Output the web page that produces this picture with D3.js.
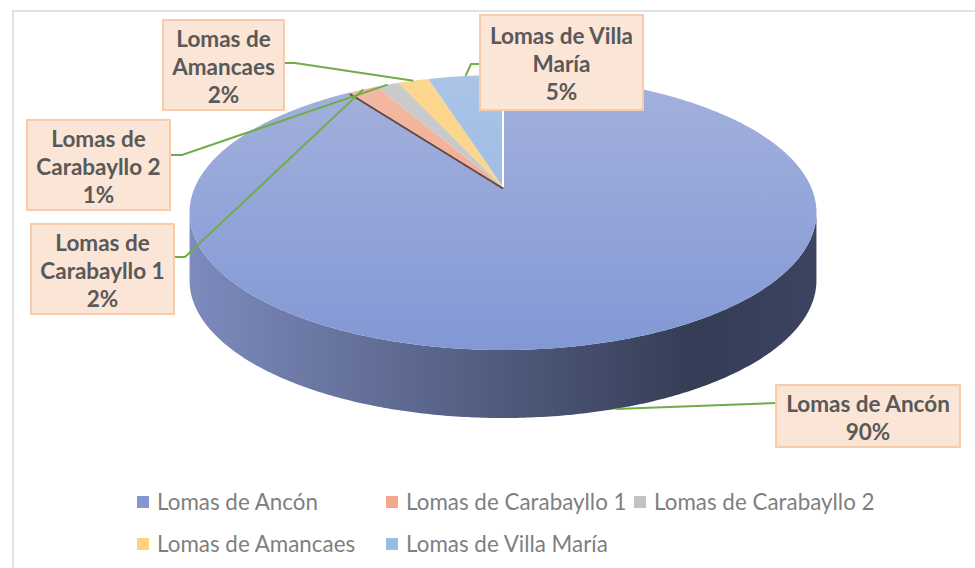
<!DOCTYPE html>
<html>
<head>
<meta charset="utf-8">
<script src="https://cdn.jsdelivr.net/npm/d3@7"></script>
<style>
  body { margin: 0; background: #fff; }
  svg { display: block; }
</style>
</head>
<body>
<div id="container"></div>
<script>
let w = 975;
let h = 568;

// DATA (share of each loma)
let names = ["Lomas de Ancón", "Lomas de Carabayllo 1", "Lomas de Carabayllo 2", "Lomas de Amancaes", "Lomas de Villa María"];
let values = [90.3, 1.8, 1.4, 1.9, 4.6];

// styles
let topColors = [["#a4b1dc", "#8298d5"], ["#f4b8a1", "#eea486"], ["#cbcbcb", "#c4c4c4"], ["#fcd78f", "#fbd27f"], ["#abc4e7", "#8fb2e1"]];
let legendColors = ["#8597d1", "#f5a78a", "#c3c3c3", "#fed57e", "#9cbbe5"];

// label boxes: where each data label sits and where its leader line leaves it
let labelBoxes = [
  {x: 776, y: 385, w: 184, h: 62, side: "left", ly: 403, elbow: 0},
  {x: 31, y: 224, w: 143, h: 90, side: "right", ly: 257, elbow: 11},
  {x: 27, y: 120, w: 143, h: 90, side: "right", ly: 155, elbow: 12},
  {x: 163, y: 20, w: 121, h: 90, side: "right", ly: 63, elbow: 11},
  {x: 480, y: 15, w: 163, h: 95, side: "left", ly: 64, elbow: 9}
];
let legendCols = [137, 386, 634];
let legendRows = [502, 544];

// 3D disc: perspective projection of a unit circle
let cx = 503, cy = 187, A = 308, B = 132.8, k = 0.1854, depth = 68;
function proj(t, r = 1) {
  let u = r * Math.sin(t), v = -r * Math.cos(t), q = 1 - k * v;
  return [cx + A * u / q, cy + B * v / q];
}
function rim(a0, a1, dy = 0) {
  let n = Math.max(2, Math.ceil(Math.abs(a1 - a0) / 0.01));
  return d3.range(n + 1).map(i => {
    let p = proj(a0 + (a1 - a0) * i / n);
    return [p[0], p[1] + dy];
  });
}
let line = d3.line();

let viz = d3.select("#container").append("svg")
  .attr("width", w)
  .attr("height", h);

let defs = viz.append("defs");
topColors.forEach((c, i) => {
  let g = defs.append("linearGradient").attr("id", "top" + i)
    .attr("gradientUnits", "userSpaceOnUse")
    .attr("x1", 0).attr("y1", 75).attr("x2", 0).attr("y2", 350);
  g.append("stop").attr("offset", 0).attr("stop-color", c[0]);
  g.append("stop").attr("offset", 1).attr("stop-color", c[1]);
});
let sideGrad = defs.append("linearGradient").attr("id", "side")
  .attr("gradientUnits", "userSpaceOnUse")
  .attr("x1", 190).attr("y1", 0).attr("x2", 820).attr("y2", 0);
[[0, "#7d8bbd"], [0.5, "#4f5a7c"], [0.8, "#353c55"], [1, "#3c4461"]].forEach(s =>
  sideGrad.append("stop").attr("offset", s[0]).attr("stop-color", s[1]));

// chart frame
viz.append("rect")
  .attr("x", 13).attr("y", 11).attr("width", w).attr("height", h)
  .attr("fill", "none").attr("stroke", "#d9d9d9").attr("stroke-width", 1.5);

let pie = d3.pie().sort(null).value(d => d)(values);

// visible outer wall (front half between silhouette points)
let sA = Math.acos(-k), sB = 2 * Math.PI - Math.acos(-k);
pie.forEach((d, i) => {
  let a0 = Math.max(d.startAngle, sA), a1 = Math.min(d.endAngle, sB);
  if (a1 <= a0) return;
  let pts = rim(a0, a1).concat(rim(a0, a1, depth).reverse());
  viz.append("path").attr("d", line(pts) + "Z").attr("fill", i == 0 ? "url(#side)" : legendColors[i]);
});

// top faces
viz.selectAll(".slice").data(pie).enter()
  .append("path")
  .attr("class", "slice")
  .attr("d", d => line([[cx, cy]].concat(rim(d.startAngle, d.endAngle))) + "Z")
  .attr("fill", (d, i) => "url(#top" + i + ")");

// cut face under the first small slice and the white seam at 12 o'clock
let cut = proj(pie[1].startAngle);
viz.append("line")
  .attr("x1", cx).attr("y1", cy + 1.5).attr("x2", cut[0]).attr("y2", cut[1] + 1.5)
  .attr("stroke", "#6e4636").attr("stroke-width", 2);
let seam = proj(0);
viz.append("line")
  .attr("x1", cx).attr("y1", cy).attr("x2", seam[0]).attr("y2", seam[1])
  .attr("stroke", "#fff").attr("stroke-width", 2);

// leader lines
pie.forEach((d, i) => {
  let b = labelBoxes[i];
  let mid = (d.startAngle + d.endAngle) / 2;
  let p = proj(mid);
  if (-Math.cos(mid) > 0) p[1] += depth;
  let ex = b.side == "left" ? b.x : b.x + b.w;
  let dir = b.side == "left" ? -1 : 1;
  let pts = [[ex, b.ly], [ex + dir * b.elbow, b.ly], p];
  viz.append("path").attr("d", line(pts))
    .attr("fill", "none").attr("stroke", "#70ad47").attr("stroke-width", 2);
});

// data labels
let fmt = d3.format(".0%");
let total = d3.sum(values);
let labelFont = 22.5;
pie.forEach((d, i) => {
  let b = labelBoxes[i];
  let g = viz.append("g");
  g.append("rect").attr("x", b.x).attr("y", b.y).attr("width", b.w).attr("height", b.h)
    .attr("fill", "#fbe5d6").attr("stroke", "#f8cbad").attr("stroke-width", 2);
  // word wrap against box width
  let probe = g.append("text").attr("font-family", "Lato, sans-serif").attr("font-weight", "bold").attr("font-size", labelFont);
  let words = names[i].split(" "), lines = [], cur = "";
  words.forEach(wd => {
    let test = cur ? cur + " " + wd : wd;
    probe.text(test);
    if (probe.node().getComputedTextLength() > b.w - 6 && cur) { lines.push(cur); cur = wd; }
    else cur = test;
  });
  lines.push(cur);
  probe.remove();
  lines.push(fmt(values[i] / total));
  let lh = 28, c = b.y + b.h / 2 + 2;
  lines.forEach((t, j) => {
    g.append("text")
      .attr("x", b.x + b.w / 2)
      .attr("y", c + (j - (lines.length - 1) / 2) * lh)
      .attr("dy", "0.35em")
      .attr("text-anchor", "middle")
      .attr("font-family", "Lato, sans-serif")
      .attr("font-weight", "bold")
      .attr("font-size", labelFont)
      .attr("fill", "#595959")
      .text(t);
  });
});

// legend
let legend = viz.selectAll(".legend").data(names).enter()
  .append("g").attr("class", "legend")
  .attr("transform", (d, i) => "translate(" + legendCols[i % 3] + "," + legendRows[Math.floor(i / 3)] + ")");
legend.append("rect").attr("x", 0).attr("y", -6).attr("width", 12).attr("height", 12)
  .attr("fill", (d, i) => legendColors[i]);
legend.append("text").attr("x", 20).attr("y", 0).attr("dy", "0.35em")
  .attr("font-family", "Lato, sans-serif").attr("font-size", 22.4).attr("fill", "#7f7f7f")
  .text(d => d);
</script>
</body>
</html>
